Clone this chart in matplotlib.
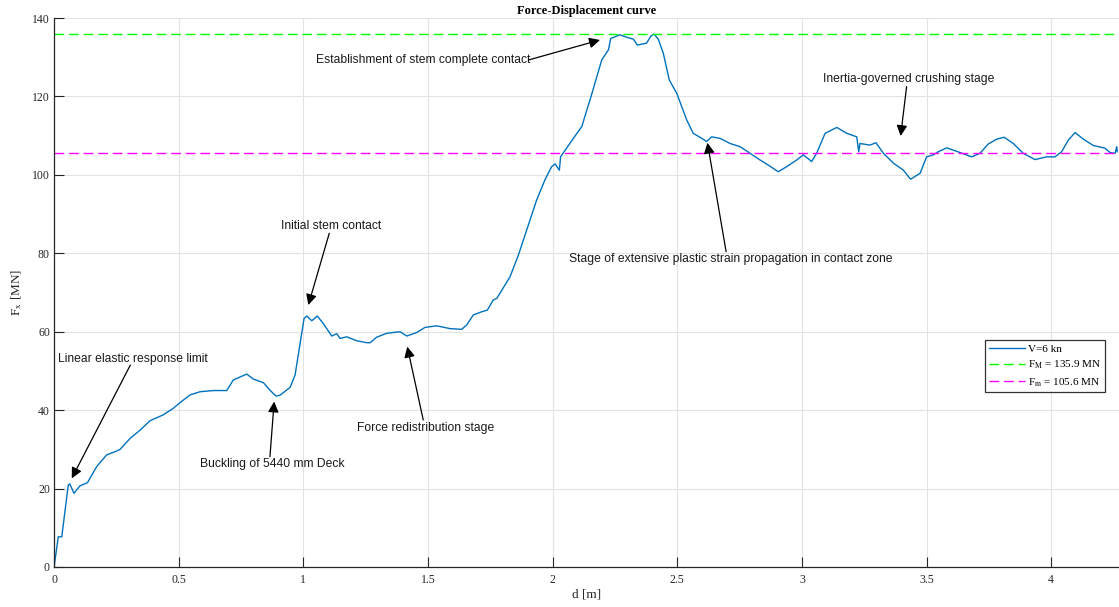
import numpy as np
import matplotlib.pyplot as plt

plt.rcParams['font.family'] = ['Liberation Serif', 'DejaVu Serif']
plt.rcParams['mathtext.fontset'] = 'stix'

# displacement [m] and force [MN] for V=6 kn
d = [0.0, 0.017, 0.031, 0.057, 0.063, 0.080, 0.104, 0.134, 0.171, 0.211,
     0.245, 0.265, 0.305, 0.345, 0.385, 0.438, 0.479, 0.505, 0.546, 0.586,
     0.639, 0.693, 0.719, 0.773, 0.800, 0.840, 0.866, 0.890, 0.906, 0.947,
     0.967, 0.987, 1.003, 1.014, 1.034, 1.056, 1.080, 1.114, 1.134, 1.147,
     1.174, 1.214, 1.254, 1.268, 1.294, 1.334, 1.361, 1.388, 1.415, 1.455,
     1.488, 1.535, 1.588, 1.635, 1.655, 1.682, 1.716, 1.738, 1.762, 1.776,
     1.829, 1.863, 1.896, 1.936, 1.969, 1.996, 2.010, 2.027, 2.032, 2.056,
     2.083, 2.117, 2.137, 2.150, 2.177, 2.197, 2.224, 2.233, 2.270, 2.297,
     2.324, 2.340, 2.377, 2.394, 2.407, 2.424, 2.444, 2.468, 2.498, 2.518,
     2.538, 2.564, 2.591, 2.618, 2.638, 2.672, 2.712, 2.752, 2.792, 2.832,
     2.865, 2.905, 2.939, 2.979, 3.006, 3.039, 3.059, 3.093, 3.140, 3.180,
     3.220, 3.228, 3.233, 3.273, 3.297, 3.327, 3.367, 3.407, 3.436, 3.474,
     3.500, 3.527, 3.547, 3.581, 3.634, 3.681, 3.714, 3.748, 3.781, 3.811,
     3.848, 3.888, 3.935, 3.982, 4.015, 4.042, 4.069, 4.096, 4.129, 4.169,
     4.216, 4.236, 4.256, 4.263, 4.265]
F = [0.0, 7.7, 7.7, 20.9, 21.2, 18.8, 20.7, 21.5, 25.6, 28.6,
     29.4, 30.0, 32.8, 34.9, 37.3, 38.8, 40.5, 41.9, 43.9, 44.7,
     45.0, 45.0, 47.7, 49.2, 47.9, 47.0, 45.1, 43.6, 43.8, 45.8,
     49.0, 57.0, 63.4, 64.0, 62.8, 64.0, 62.1, 58.9, 59.5, 58.3,
     58.7, 57.7, 57.2, 57.2, 58.6, 59.6, 59.8, 60.0, 58.9, 59.8,
     61.1, 61.5, 60.8, 60.6, 61.7, 64.3, 65.1, 65.5, 68.1, 68.5,
     74.0, 79.6, 85.9, 93.6, 98.7, 102.1, 102.8, 101.2, 104.6, 106.8,
     109.3, 112.3, 116.5, 119.1, 125.0, 129.3, 131.9, 134.8, 135.7, 135.1,
     134.6, 133.1, 133.6, 135.4, 135.9, 134.6, 131.0, 124.2, 120.8, 117.4,
     114.0, 110.6, 109.6, 108.5, 109.7, 109.3, 108.0, 107.2, 105.5, 103.8,
     102.5, 100.8, 102.1, 103.8, 105.1, 103.4, 105.5, 110.6, 112.1, 110.6,
     109.7, 105.9, 108.0, 107.6, 108.2, 105.5, 103.0, 101.2, 98.9, 100.4,
     104.6, 105.1, 105.9, 106.9, 105.7, 104.6, 105.5, 107.9, 109.1, 109.6,
     108.0, 105.5, 103.9, 104.6, 104.6, 105.9, 108.9, 110.8, 109.1, 107.5,
     106.8, 105.7, 105.5, 107.2, 105.9]

F_max = 135.9
F_mean = 105.6

# (text, text x, text y, arrow head x, arrow head y, arrow tail x, arrow tail y)
notes = [
    ('Linear elastic response limit', 0.016, 53.0, 0.071, 22.6, 0.306, 51.5),
    ('Buckling of 5440 mm Deck', 0.876, 26.2, 0.883, 42.2, 0.866, 28.1),
    ('Initial stem contact', 1.112, 87.0, 1.020, 66.8, 1.104, 85.1),
    ('Force redistribution stage', 1.49, 35.4, 1.417, 56.2, 1.481, 37.5),
    ('Establishment of stem complete contact', 1.051, 129.3, 2.190, 134.4, 1.903, 129.3),
    ('Stage of extensive plastic strain propagation in contact zone', 2.067, 78.5,
     2.621, 108.2, 2.696, 80.4),
    ('Inertia-governed crushing stage', 3.43, 124.5, 3.396, 109.9, 3.420, 122.5),
]

fig = plt.figure(figsize=(11.19, 6.07), dpi=100)
ax = fig.add_axes([0.0483, 0.0659, 0.9517, 0.9044])

ax.plot(d, F, color='#0072BD', lw=1.0, label='V=6 kn')
ax.axhline(F_max, color='#00FF00', lw=1.0, dashes=(7, 3.5),
           label=r'F$_{\rm M}$ = 135.9 MN')
ax.axhline(F_mean, color='#FF00FF', lw=1.0, dashes=(7, 3.5),
           label=r'F$_{\rm m}$ = 105.6 MN')

for txt, tx, ty, hx, hy, sx, sy in notes:
    left = txt.startswith(('Linear', 'Establishment', 'Stage'))
    ax.text(tx, ty, txt, family=['Liberation Sans', 'DejaVu Sans'], fontsize=8.7,
            color='#1a1a1a', ha='left' if left else 'center', va='center')
    ax.annotate('', xy=(hx, hy), xytext=(sx, sy),
                arrowprops=dict(arrowstyle='-|>', color='black', lw=0.9,
                                mutation_scale=16, shrinkA=0, shrinkB=0))

ax.set_xlim(0, 4.272)
ax.set_ylim(0, 140)
ax.set_xticks([0, 0.5, 1, 1.5, 2, 2.5, 3, 3.5, 4])
ax.set_xticklabels(['0', '0.5', '1', '1.5', '2', '2.5', '3', '3.5', '4'])
ax.set_yticks(np.arange(0, 141, 20))
ax.tick_params(direction='in', length=7, width=0.8, colors='#262626', labelsize=8.5, pad=3)
ax.tick_params(axis='x', pad=5)
ax.grid(color='#e3e3e3', lw=0.8)
ax.set_axisbelow(True)
for s in ['top', 'right']:
    ax.spines[s].set_visible(False)
for s in ['left', 'bottom']:
    ax.spines[s].set_color('#262626')
    ax.spines[s].set_linewidth(0.9)

ax.set_title('Force-Displacement curve', fontsize=9, fontweight='bold', pad=3)
ax.set_xlabel('d [m]', fontsize=9.5, color='#262626', labelpad=2)
ax.set_ylabel(r'F$_{\rm x}$ [MN]', fontsize=9.5, color='#262626', labelpad=6)

leg = ax.legend(loc='lower left', bbox_to_anchor=(0.874, 0.318), fontsize=8,
                frameon=True, fancybox=False, borderpad=0.35, labelspacing=0.45,
                handlelength=3.3, handletextpad=0.2, borderaxespad=0)
leg.get_frame().set_edgecolor('black')
leg.get_frame().set_linewidth(0.9)

fig.savefig('out.png', dpi=100)
